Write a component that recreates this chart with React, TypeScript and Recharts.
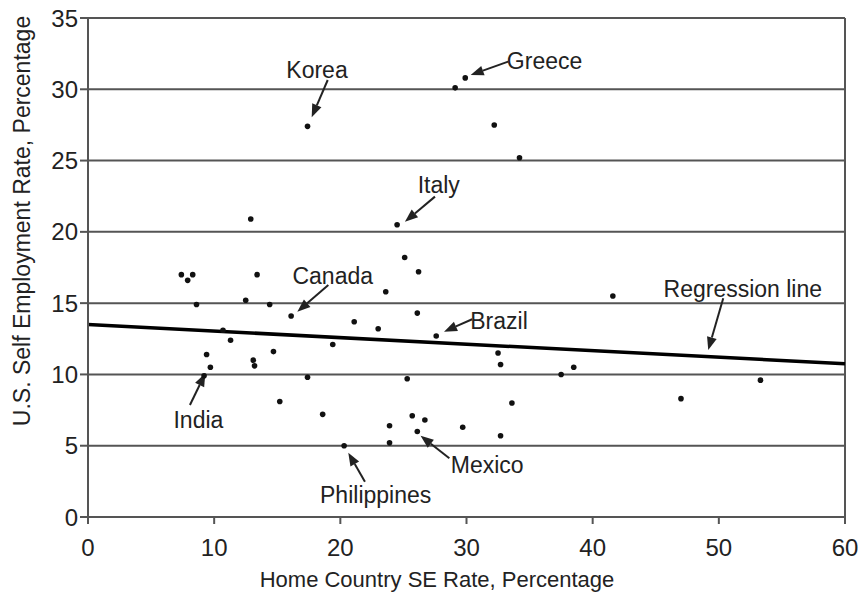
import React from 'react';
import {
  ScatterChart, Scatter, XAxis, YAxis, CartesianGrid, ReferenceLine, ReferenceDot,
} from 'recharts';

// home-country self-employment rate (x) vs U.S. rate (y)
const homeRate = [
  17.4, 29.1, 29.9, 32.2, 34.2, 12.9, 24.5, 25.1, 26.2, 7.4,
  8.3, 7.9, 13.4, 23.6, 8.6, 12.5, 14.4, 16.1, 26.1, 21.1,
  23.0, 27.6, 10.7, 11.3, 19.4, 9.4, 14.7, 13.1, 13.2, 9.7,
  9.2, 17.4, 25.3, 15.2, 18.6, 25.7, 26.7, 23.9, 29.7, 26.1,
  23.9, 20.3, 41.6, 32.5, 32.7, 37.5, 38.5, 53.3, 33.6, 47.0,
  32.7,
];
const usRate = [
  27.4, 30.1, 30.8, 27.5, 25.2, 20.9, 20.5, 18.2, 17.2, 17.0,
  17.0, 16.6, 17.0, 15.8, 14.9, 15.2, 14.9, 14.1, 14.3, 13.7,
  13.2, 12.7, 13.1, 12.4, 12.1, 11.4, 11.6, 11.0, 10.6, 10.5,
  9.9, 9.8, 9.7, 8.1, 7.2, 7.1, 6.8, 6.4, 6.3, 6.0,
  5.2, 5.0, 15.5, 11.5, 10.7, 10.0, 10.5, 9.6, 8.0, 8.3,
  5.7,
];

const regressionX = [0, 60];
const regressionY = [13.5, 10.75];

const xTicks = [0, 10, 20, 30, 40, 50, 60];
const yTicks = [0, 5, 10, 15, 20, 25, 30, 35];

// callouts: label, label anchor point, arrow tail, arrow tip (data units)
const noteLabels = ['Korea', 'Greece', 'Italy', 'Canada', 'Brazil', 'Regression line', 'India', 'Philippines', 'Mexico'];
const noteAnchor = ['middle', 'start', 'middle', 'middle', 'start', 'middle', 'middle', 'middle', 'start'];
const noteTextPos = [
  [18.15, 31.35], [33.2, 32.0], [27.8, 23.3], [19.4, 16.9], [30.3, 13.75],
  [51.9, 16.0], [8.75, 6.8], [22.8, 1.55], [28.75, 3.65],
];
const noteFrom = [
  [19.0, 30.65], [33.3, 31.94], [27.5, 22.47], [19.05, 16.27], [30.45, 13.87],
  [50.35, 15.34], [8.08, 7.86], [21.95, 2.48], [28.64, 4.12],
];
const noteTo = [
  [17.73, 28.04], [30.33, 31.0], [25.12, 20.71], [16.59, 14.4], [28.22, 13.0],
  [49.16, 11.71], [9.3, 10.08], [20.63, 4.51], [26.36, 5.7],
];

const points = homeRate.map((x, i) => ({ x, y: usRate[i] }));

const FONT = '"Liberation Sans", Arial, sans-serif';
const INK = '#222';

function Arrow(props: any) {
  const { x1, y1, x2, y2 } = props;
  const ang = Math.atan2(y2 - y1, x2 - x1);
  const len = 13;
  const half = 5;
  const bx = x2 - len * Math.cos(ang);
  const by = y2 - len * Math.sin(ang);
  const px = -Math.sin(ang) * half;
  const py = Math.cos(ang) * half;
  return (
    <g>
      <line x1={x1} y1={y1} x2={bx} y2={by} stroke={INK} strokeWidth={2} />
      <polygon points={`${x2},${y2} ${bx + px},${by + py} ${bx - px},${by - py}`} fill={INK} />
    </g>
  );
}

function Dot(props: any) {
  const { cx, cy } = props;
  if (cx == null || cy == null) return <g />;
  return <circle cx={cx} cy={cy} r={2.8} fill="#111" />;
}

export default function App() {
  return (
    <div style={{ position: 'absolute', left: 0, top: 0, width: 860, height: 594, background: '#fff', overflow: 'hidden' }}>
      <div
        style={{
          position: 'absolute', left: 22, top: 221, transform: 'translate(-50%, -50%) rotate(-90deg)',
          whiteSpace: 'nowrap', fontFamily: FONT, fontSize: 23, lineHeight: '24px', color: INK,
        }}
      >
        U.S. Self Employment Rate, Percentage
      </div>
      <div
        style={{
          position: 'absolute', left: 437, top: 580, transform: 'translate(-50%, -50%)',
          whiteSpace: 'nowrap', fontFamily: FONT, fontSize: 22, lineHeight: '24px', color: INK,
        }}
      >
        Home Country SE Rate, Percentage
      </div>
      <ScatterChart width={860} height={594} margin={{ top: 18, right: 15, bottom: 27, left: 28 }}
        style={{ position: 'absolute', left: 0, top: 0 }}>
        <CartesianGrid vertical={false} stroke="#555" strokeWidth={2} />
        <XAxis
          type="number"
          dataKey="x"
          domain={[0, 60]}
          ticks={xTicks}
          interval={0}
          height={50}
          stroke="#555"
          strokeWidth={2}
          tickSize={7}
          tickMargin={15}
          tick={{ fill: INK, fontSize: 24, fontFamily: FONT }}
        />
        <YAxis
          type="number"
          dataKey="y"
          domain={[0, 35]}
          ticks={yTicks}
          interval={0}
          width={60}
          stroke="#555"
          strokeWidth={2}
          tickSize={8}
          tick={{ fill: INK, fontSize: 24, fontFamily: FONT }}
        />
        <ReferenceLine x={60} stroke="#555" strokeWidth={2} />
        <ReferenceLine
          segment={[
            { x: regressionX[0], y: regressionY[0] },
            { x: regressionX[1], y: regressionY[1] },
          ]}
          stroke="#000"
          strokeWidth={3.5}
        />
        <Scatter data={points} shape={<Dot />} isAnimationActive={false} />
        {noteLabels.map((lab, i) => (
          <ReferenceLine
            key={'a' + lab}
            segment={[
              { x: noteFrom[i][0], y: noteFrom[i][1] },
              { x: noteTo[i][0], y: noteTo[i][1] },
            ]}
            shape={(p: any) => <Arrow {...p} />}
          />
        ))}
        {noteLabels.map((lab, i) => (
          <ReferenceDot
            key={'t' + lab}
            x={noteTextPos[i][0]}
            y={noteTextPos[i][1]}
            r={0}
            shape={(p: any) => (
              <text
                x={p.cx}
                y={p.cy}
                textAnchor={noteAnchor[i] as any}
                dominantBaseline="central"
                fill={INK}
                fontSize={23}
                fontFamily={FONT}
              >
                {lab}
              </text>
            )}
          />
        ))}
      </ScatterChart>
    </div>
  );
}
